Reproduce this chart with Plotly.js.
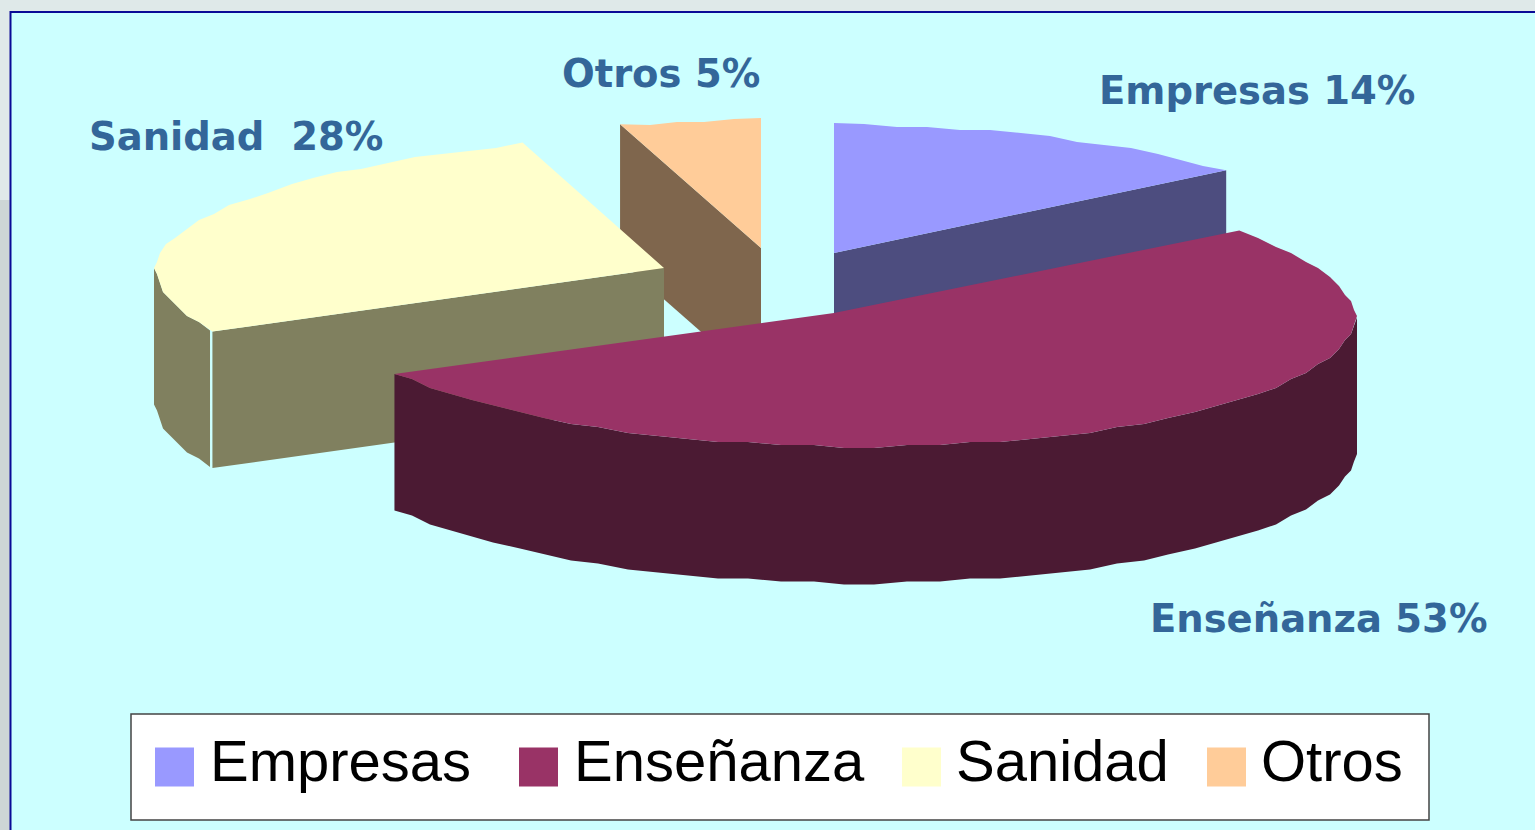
<!DOCTYPE html>
<html>
<head>
<meta charset="utf-8">
<script src="https://cdn.plot.ly/plotly-3.0.1.min.js"></script>
<style>html,body{margin:0;padding:0;background:#DFE9E9;overflow:hidden}</style>
</head>
<body>
<div id="chart" style="width:1535px;height:830px"></div>
<script>
// Data
const categories = ["Empresas", "Enseñanza", "Sanidad", "Otros"];
const shares = [14, 53, 28, 5];
const sliceLabels = ["Empresas 14%", "Enseñanza 53%", "Sanidad\u00A0\u00A028%", "Otros 5%"];

// Styles
const topColors = ["#9999FF", "#993366", "#FFFFCC", "#FFCC99"];
const wallColors = ["#4D4D7F", "#4B1A33", "#80805F", "#7F664D"];

// Projection of the exploded 3-D pie: one apex and ellipse per slice
const DEPTH = 136.5;
const projection = [
  {ax: 834, ay: 253, off: 0,  a: 509, b: 130, k: 0, k2: 0, tilt: 0},
  {ax: 834, ay: 313, off: 10, a: 513, b: 135, k: 0, k2: 0, tilt: 4.5},
  {ax: 664, ay: 268, off: 0,  a: 510, b: 132, k: 0.113, k2: 0.045, tilt: 0},
  {ax: 761, ay: 248, off: 0,  a: 456, b: 130, k: 0, k2: 0, tilt: 0}
];
const labelPos = [[1257, 90], [1318, 618], [236, 136], [661, 73.5]];
const legendSwatchX = [174.5, 538.5, 921.5, 1226.5];
const legendTextX = [208, 572, 954, 1259];

const rad = d => d * Math.PI / 180;
function point(p, deg) {
  const s = Math.sin(rad(deg)), c = Math.cos(rad(deg));
  const back = Math.max(0, c), front = Math.max(0, -c);
  const a = p.a * (1 - p.k * back * back + p.k2 * front * front);
  return [p.ax + p.off + a * s, p.ay - p.b * c + p.tilt * s];
}
// Coarse arc, snapped to a grid toward the centre, as in the faceted original
const STEP = 3.6;
function arc(p, from, to) {
  const pts = [point(p, from)];
  const cx = p.ax + p.off, cy = p.ay;
  for (let k = Math.floor(from / STEP) + 1; k * STEP < to - 0.01; k++) {
    const q = point(p, k * STEP);
    pts.push([cx + Math.trunc((q[0] - cx) / 3) * 3, cy + Math.trunc((q[1] - cy) / 3) * 3]);
  }
  pts.push(point(p, to));
  return pts;
}
function poly(pts, color, name) {
  return {
    type: "scatter", mode: "lines", fill: "toself", fillcolor: color,
    line: {width: 0, color: color}, name: name, hoverinfo: "name", showlegend: false,
    x: pts.map(q => q[0]), y: pts.map(q => q[1])
  };
}

// Start and end angle of each slice, from the shares
let cum = 0;
const angles = shares.map(v => { const r = [cum * 3.6, (cum + v) * 3.6]; cum += v; return r; });

function face(i) {
  const p = projection[i], [s, e] = angles[i];
  return poly([[p.ax, p.ay]].concat(arc(p, s, e)).concat([[p.ax, p.ay]]), topColors[i], categories[i]);
}
function radialWall(i, deg) {
  const p = projection[i], q = point(p, deg);
  return poly([[p.ax, p.ay], q, [q[0], q[1] + DEPTH], [p.ax, p.ay + DEPTH], [p.ax, p.ay]], wallColors[i], categories[i]);
}
function rimWall(i, from, to) {
  const p = projection[i], up = arc(p, from, to);
  const down = up.map(q => [q[0], q[1] + DEPTH]).reverse();
  return poly(up.concat(down).concat([up[0]]), wallColors[i], categories[i]);
}

const traces = [
  radialWall(3, angles[3][0]), face(3),
  radialWall(2, angles[2][0]), rimWall(2, angles[2][0] + 0.6, 270), face(2),
  radialWall(0, angles[0][1]), face(0),
  rimWall(1, 90, angles[1][1]), face(1)
];

// Legend swatches
categories.forEach((c, i) => {
  traces.push({
    type: "scatter", mode: "markers", x: [legendSwatchX[i]], y: [767], name: c,
    marker: {symbol: "square", size: 39, color: topColors[i], line: {width: 0}},
    hoverinfo: "name", showlegend: false
  });
});

const annotations = [];
sliceLabels.forEach((t, i) => annotations.push({
  text: "<b>" + t + "</b>", x: labelPos[i][0], y: labelPos[i][1], xref: "x", yref: "y",
  showarrow: false, xanchor: "center", yanchor: "middle",
  font: {family: "DejaVu Sans", size: 38.5, color: "#336699"}
}));
categories.forEach((c, i) => annotations.push({
  text: c, x: legendTextX[i], y: 760, xref: "x", yref: "y",
  showarrow: false, xanchor: "left", yanchor: "middle",
  font: {family: "Liberation Sans", size: 58, color: "#000000"}
}));

const layout = {
  width: 1535, height: 830,
  margin: {l: 0, r: 0, t: 0, b: 0},
  paper_bgcolor: "#DFE9E9", plot_bgcolor: "rgba(0,0,0,0)",
  xaxis: {range: [0, 1535], visible: false, fixedrange: true},
  yaxis: {range: [830, 0], visible: false, fixedrange: true},
  showlegend: false,
  hovermode: "closest",
  shapes: [
    {type: "rect", layer: "below", xref: "x", yref: "y", x0: 0, x1: 11, y0: 200, y1: 830,
     fillcolor: "#CDD6D6", line: {width: 0}},
    {type: "rect", layer: "below", xref: "x", yref: "y", x0: 10.5, x1: 1540, y0: 12, y1: 840,
     fillcolor: "#CCFFFF", line: {color: "#0A0A96", width: 2}},
    {type: "rect", layer: "below", xref: "x", yref: "y", x0: 131, x1: 1429, y0: 714, y1: 820,
     fillcolor: "#FFFFFF", line: {color: "#444444", width: 1.5}}
  ],
  annotations: annotations
};
Plotly.newPlot("chart", traces, layout, {displayModeBar: false});
</script>
</body>
</html>
